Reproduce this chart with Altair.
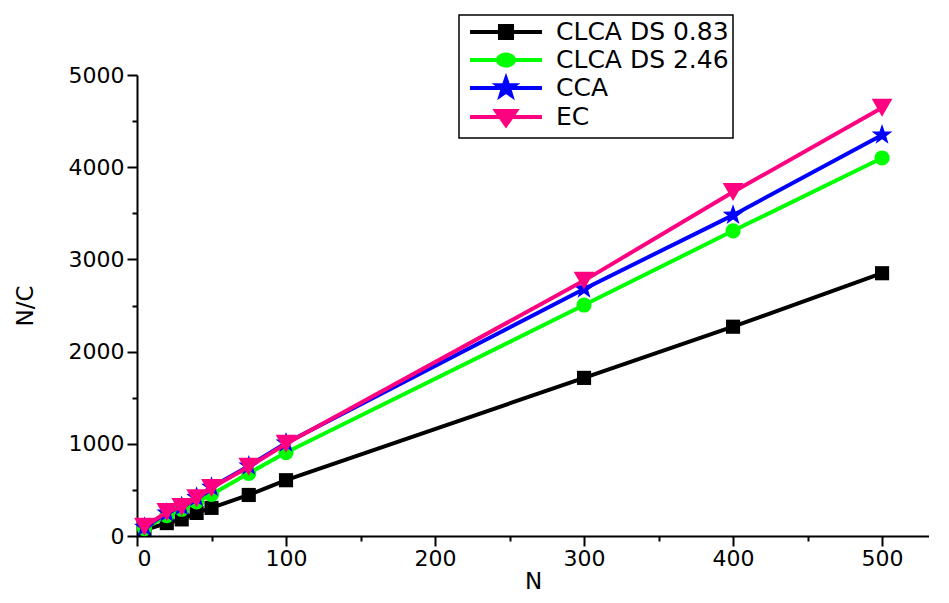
import altair as alt
import pandas as pd

# ---- data ----
N = [5, 20, 30, 40, 50, 75, 100, 300, 400, 500]
clca_083 = [65, 140, 180, 250, 305, 445, 605, 1715, 2270, 2850]
clca_246 = [80, 220, 290, 370, 450, 680, 905, 2505, 3310, 4100]
cca = [95, 250, 320, 420, 530, 760, 1010, 2680, 3480, 4350]
ec = [100, 260, 315, 410, 520, 750, 1000, 2770, 3730, 4645]

series_names = ["CLCA DS 0.83", "CLCA DS 2.46", "CCA", "EC"]
series_values = [clca_083, clca_246, cca, ec]
colors = ["#000000", "#00ff00", "#0000ff", "#ff0080"]

STAR = ("M0,-1L0.235,-0.324L0.951,-0.309L0.38,0.124L0.588,0.809L0,0.4"
        "L-0.588,0.809L-0.38,0.124L-0.951,-0.309L-0.235,-0.324Z")
point_shapes = ["square", "circle", STAR, "triangle-down"]
point_sizes = [200, 230, 480, 430]

x_major = [0, 100, 200, 300, 400, 500]
x_minor = [50, 150, 250, 350, 450]
y_major = [0, 1000, 2000, 3000, 4000, 5000]
y_minor = [500, 1500, 2500, 3500, 4500]

# legend symbols: a line with the marker in its middle
legend_paths = [
    "M-3.27,0H3.27M-0.55,-0.55H0.55V0.55H-0.55Z",
    "M-3.27,0H3.27M0.73,0A0.73,0.5 0 1,1 -0.73,0A0.73,0.5 0 1,1 0.73,0Z",
    "M-3.27,0H3.27M0,-0.82L0.192,-0.265L0.777,-0.253L0.311,0.101L0.481,0.662L0,0.327"
    "L-0.481,0.662L-0.311,0.101L-0.777,-0.253L-0.192,-0.265Z",
    "M-3.27,0H3.27M-0.9,-0.55H0.9L0,0.73Z",
]

rows = []
for name, vals in zip(series_names, series_values):
    for n, v in zip(N, vals):
        rows.append({"series": name, "N": n, "NC": v})
df = pd.DataFrame(rows)

font = "DejaVu Sans"
x_scale = alt.Scale(domain=[0, 531.5], nice=False, zero=False)
y_scale = alt.Scale(domain=[0, 5000], nice=False)

x_axis_major = alt.Axis(values=x_major, tickSize=10, format="d", orient="bottom",
                        offset=0, labelPadding=2, titlePadding=1)
y_axis_major = alt.Axis(values=y_major, tickSize=10, format="d", orient="left",
                        offset=0, labelPadding=3, titlePadding=31)

layers = []
for i, (name, col, shp, sz) in enumerate(zip(series_names, colors, point_shapes, point_sizes)):
    base = alt.Chart(df).transform_filter(alt.datum.series == name)
    first = i == 0
    xe = alt.X("N:Q", title="N", scale=x_scale, axis=x_axis_major if first else None)
    ye = alt.Y("NC:Q", title="N/C", scale=y_scale, axis=y_axis_major if first else None)
    layers.append(base.mark_line(strokeWidth=4, color=col).encode(x=xe, y=ye))
    layers.append(
        base.mark_point(filled=True, opacity=1, color=col, shape=shp, size=sz).encode(
            x=alt.X("N:Q", scale=x_scale, axis=None),
            y=alt.Y("NC:Q", scale=y_scale, axis=None),
        )
    )

# empty layer carrying the legend and the minor ticks
legend_layer = (
    alt.Chart(df)
    .transform_filter("false")
    .mark_point(filled=True, opacity=1)
    .encode(
        x=alt.X("N:Q", scale=x_scale, title=None,
                axis=alt.Axis(values=x_minor, tickSize=5, labels=False, domain=False,
                              orient="bottom", offset=0, title=None)),
        y=alt.Y("NC:Q", scale=y_scale, title=None,
                axis=alt.Axis(values=y_minor, tickSize=5, labels=False, domain=False,
                              orient="left", offset=0, title=None)),
        fill=alt.Fill(
            "series:N",
            scale=alt.Scale(domain=series_names, range=colors),
            legend=alt.Legend(
                title=None,
                orient="none",
                legendX=322,
                legendY=-60,
                symbolSize=484,
                symbolStrokeWidth=4,
                symbolOffset=30,
                labelOffset=37,
                labelLimit=600,
                labelFont=font,
                labelFontSize=25,
                labelColor="black",
                padding=4,
                rowPadding=-4,
                strokeColor="black",
                fillColor="white",
            ),
        ),
        stroke=alt.Stroke("series:N", scale=alt.Scale(domain=series_names, range=colors)),
        shape=alt.Shape("series:N", scale=alt.Scale(domain=series_names, range=legend_paths)),
    )
)

chart = (
    alt.layer(*layers, legend_layer)
    .resolve_axis(x="independent", y="independent")
    .properties(width=792, height=461, padding={"left": 6, "top": 6, "right": 0, "bottom": 0})
    .configure_view(stroke=None)
    .configure_axis(
        grid=False,
        domainColor="black",
        domainWidth=2,
        tickColor="black",
        tickWidth=2,
        labelColor="black",
        labelFont=font,
        labelFontSize=22,
        titleFont=font,
        titleFontSize=23,
        titleFontWeight="normal",
        titleColor="black",
    )
    .configure_legend(strokeWidth=1.5)
)

chart.save("out.html", embed_options={"renderer": "svg", "actions": False})
